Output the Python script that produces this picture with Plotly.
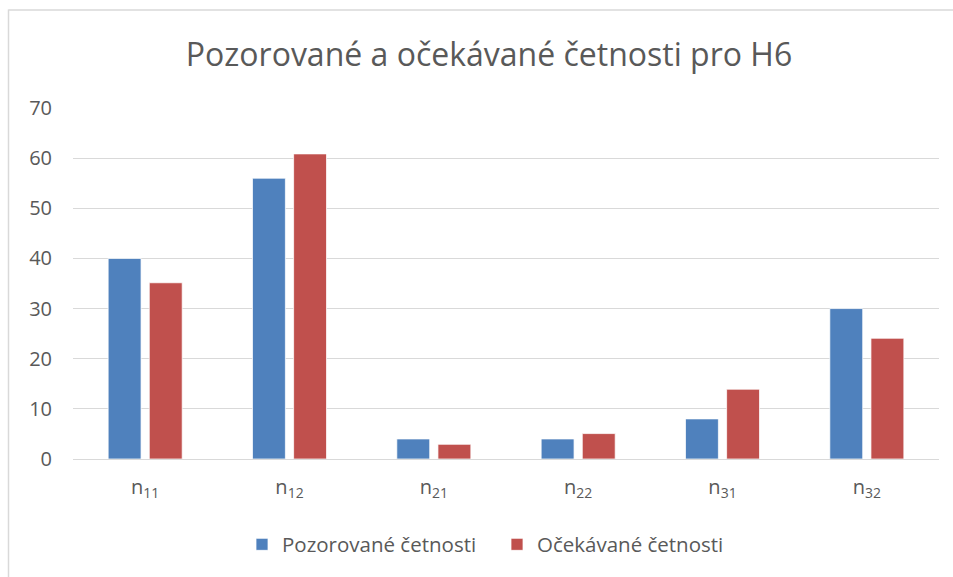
import plotly.graph_objects as go

# Pozorované a očekávané četnosti (kontingenční tabulka 3x2, hypotéza H6)
categories = ["n<sub>11</sub>", "n<sub>12</sub>", "n<sub>21</sub>",
              "n<sub>22</sub>", "n<sub>31</sub>", "n<sub>32</sub>"]
observed = [40, 56, 4, 4, 8, 30]
expected = [35.15, 60.85, 2.93, 5.07, 13.92, 24.08]
y_ticks = [0, 10, 20, 30, 40, 50, 60, 70]

BLUE = "#4F81BD"
RED = "#C0504D"
TEXT = "#595959"
GRID = "#D9D9D9"
FONT = "Open Sans"

fig = go.Figure()
fig.add_trace(go.Bar(
    x=categories, y=observed, name="Pozorované četnosti",
    marker=dict(color=BLUE, line=dict(color="white", width=0.75)),
))
fig.add_trace(go.Bar(
    x=categories, y=expected, name="Očekávané četnosti",
    marker=dict(color=RED, line=dict(color="white", width=0.75)),
))

W, H = 953, 577
ml, mr, mt, mb = 73, 14, 108, 116
pw, ph = W - ml - mr, H - mt - mb


def px_to_paper_x(px):
    return (px - ml) / pw


def px_to_paper_y(py):
    return (H - mb - py) / ph


fig.update_layout(
    width=W, height=H,
    margin=dict(l=ml, r=mr, t=mt, b=mb),
    paper_bgcolor="white", plot_bgcolor="white",
    font=dict(family=FONT, color=TEXT, size=20),
    title=dict(
        text="Pozorované a očekávané četnosti pro H6",
        font=dict(family=FONT, size=32, color=TEXT),
        x=px_to_paper_x(489), xref="paper", xanchor="center",
        y=1 - 55 / H, yanchor="middle",
    ),
    barmode="group", bargap=0.43, bargroupgap=0.2,
    showlegend=True,
    legend=dict(
        orientation="h", x=px_to_paper_x(242), xanchor="left",
        y=px_to_paper_y(547), yanchor="middle",
        font=dict(family=FONT, size=20.5, color=TEXT),
        itemwidth=30, traceorder="normal",
        entrywidth=210, entrywidthmode="pixels",
    ),
    xaxis=dict(
        showgrid=False, showline=False, ticks="",
        tickfont=dict(family=FONT, size=20, color=TEXT),
        ticklabelstandoff=14,
    ),
    yaxis=dict(
        range=[0, 70], tickvals=y_ticks, showgrid=True, gridcolor=GRID,
        gridwidth=1.3, zeroline=True, zerolinecolor=GRID, zerolinewidth=1.3,
        showline=False, ticks="",
        tickfont=dict(family=FONT, size=20, color=TEXT),
        ticklabelstandoff=20,
    ),
    shapes=[
        # chart frame (left and top edges)
        dict(type="line", xref="paper", yref="paper",
             x0=px_to_paper_x(8.5), x1=px_to_paper_x(8.5),
             y0=px_to_paper_y(9), y1=px_to_paper_y(600),
             line=dict(color=GRID, width=1.5)),
        dict(type="line", xref="paper", yref="paper",
             x0=px_to_paper_x(8.5), x1=px_to_paper_x(1000),
             y0=px_to_paper_y(9.5), y1=px_to_paper_y(9.5),
             line=dict(color=GRID, width=1.5)),
    ],
)

fig.write_html("out.html")
